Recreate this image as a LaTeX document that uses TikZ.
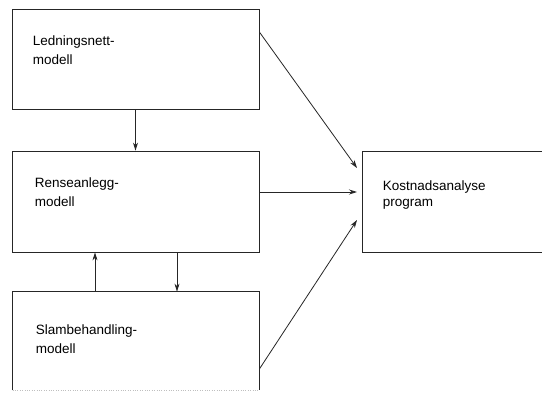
\documentclass[tikz,border=0pt]{standalone}
\usepackage{fontspec}
\setmainfont{Liberation Sans}
\usetikzlibrary{arrows.meta,positioning}
\tikzset{
  modul/.style={draw=black!85, line width=0.8pt, minimum width=247pt, minimum height=100pt, inner sep=0pt},
  tekst/.style={align=left, inner sep=0pt, font=\fontsize{13.5}{19}\selectfont},
  pil/.style={draw=black!85, line width=0.8pt, -{Stealth[length=8pt,width=5pt]}}
}
\begin{document}
\begin{tikzpicture}[x=1pt,y=-1pt]
  \clip (0,0) rectangle (542,392);
  \fill[white] (0,0) rectangle (542,392);
  % boxes
  \node[modul] (ledning) at (135.5,59) {};
  \node[modul, minimum height=101pt] (rense) at (135.5,201.5) {};
  \node[modul, draw=none, minimum width=246pt, minimum height=98pt] (slam) at (136,341) {};
  \draw[black!85, line width=0.8pt] (slam.south west) -- (slam.north west) -- (slam.north east) -- (slam.south east);
  \draw[black!25, dotted] (slam.south west) -- (slam.south east);
  \node[modul, minimum width=200pt, minimum height=101pt] (kostnad) at (462,201.5) {};
  % texts
  \node[tekst, below right=27pt and 21pt of ledning.north west] (t1) {Ledningsnett-\\modell};
  \node[tekst, below right=27pt and 23pt of rense.north west] (t2) {Renseanlegg-\\modell};
  \node[tekst, below right=33pt and 23pt of slam.north west] (t3) {Slambehandling-\\modell};
  \node[tekst, font=\fontsize{13.5}{16}\selectfont, below right=30pt and 21pt of kostnad.north west] (t4) {Kostnadsanalyse\\program};
  % arrows
  \coordinate (inn1) at (357,168);
  \coordinate (inn2) at (357,192);
  \coordinate (inn3) at (357,220);
  \draw[pil] (ledning.south) -- (rense.north);
  \draw[pil] (slam.north -| 95,0) -- (rense.south -| 95,0);
  \draw[pil] (rense.south -| 177,0) -- (slam.north -| 177,0);
  \draw[pil] (ledning.east |- 0,32) -- (inn1);
  \draw[pil] (rense.east |- 0,192) -- (inn2);
  \draw[pil] (slam.east |- 0,369) -- (inn3);
\end{tikzpicture}
\end{document}
